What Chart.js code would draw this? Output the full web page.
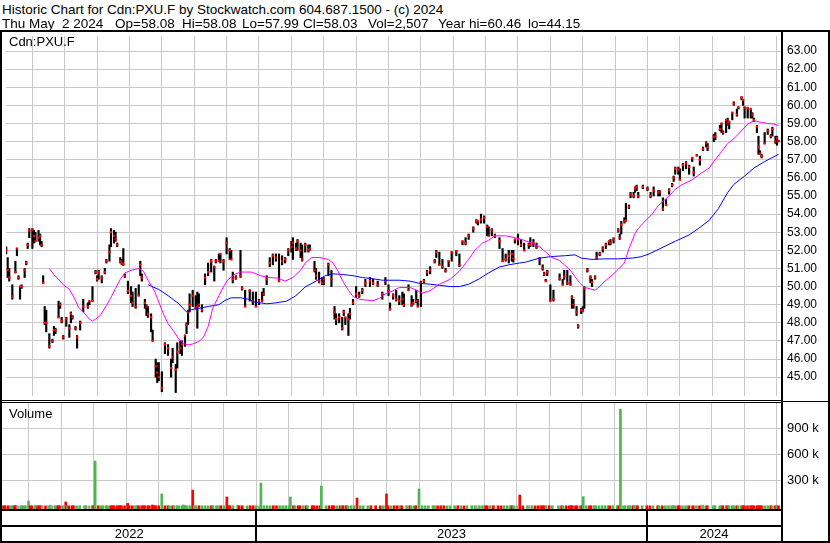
<!DOCTYPE html>
<html><head><meta charset="utf-8">
<script src="https://cdn.jsdelivr.net/npm/chart.js@4.4.1/dist/chart.umd.min.js"></script>
<style>
html,body{margin:0;padding:0;background:#fff;}
#wrap{position:relative;width:830px;height:543px;overflow:hidden;background:#fff;font-family:"Liberation Sans",Arial,sans-serif;}
.t{position:absolute;white-space:pre;color:#000;}
.h{position:absolute;white-space:pre;color:#000;top:17px;font-size:13.5px;line-height:13.5px;}
.ln{position:absolute;background:#000;}
canvas{position:absolute;}
</style></head><body>
<div id="wrap">
<canvas id="pc" style="left:2px;top:32px;" width="826" height="368"></canvas>
<canvas id="vc" style="left:2px;top:403px;" width="826" height="140"></canvas>
<div class="t" style="left:2px;top:2.5px;font-size:13.5px;line-height:13.5px;">Historic Chart for Cdn:PXU.F by Stockwatch.com 604.687.1500 - (c) 2024</div>
<span class="h" style="left:2px;">Thu May  2 2024</span>
<span class="h" style="left:115px;">Op=58.08</span>
<span class="h" style="left:182px;">Hi=58.08</span>
<span class="h" style="left:242px;">Lo=57.99</span>
<span class="h" style="left:303px;">Cl=58.03</span>
<span class="h" style="left:368px;">Vol=2,507</span>
<span class="h" style="left:438px;">Year hi=60.46</span>
<span class="h" style="left:528px;">lo=44.15</span>
<div class="t" style="left:9px;top:35px;font-size:13px;line-height:13px;">Cdn:PXU.F</div>
<div class="t" style="left:9px;top:406.5px;font-size:13px;line-height:13px;">Volume</div>
<div class="ln" style="left:0;top:30px;width:830px;height:2px;"></div>
<div class="ln" style="left:0;top:30px;width:2px;height:513px;"></div>
<div class="ln" style="left:828px;top:30px;width:2px;height:513px;"></div>
<div class="ln" style="left:781px;top:30px;width:2px;height:513px;"></div>
<div class="ln" style="left:0;top:400px;width:781px;height:1px;"></div>
<div class="ln" style="left:0;top:402px;width:781px;height:1px;"></div>
<div class="ln" style="left:781px;top:401px;width:49px;height:1px;"></div>
<div class="ln" style="left:0;top:509px;width:781px;height:2px;"></div>
<div class="ln" style="left:0;top:525px;width:781px;height:2px;"></div>
<div class="ln" style="left:0;top:541px;width:830px;height:2px;"></div>
</div>
<script>
// ---- data (x = trading-day index counted from the first session of 2022) ----
const barDays = [
 88,89,90,92,94,95,96,97,98,100,
 101,102,103,105,106,107,109,110,111,112,
 113,114,116,118,119,120,122,123,124,125,
 127,129,130,131,133,134,136,138,141,142,
 144,146,147,148,150,152,153,155,156,158,
 159,160,162,163,164,165,167,169,170,172,
 174,175,176,178,179,180,182,183,185,186,
 187,189,191,193,195,196,198,199,201,202,
 204,205,206,207,209,211,212,213,215,217,
 219,221,223,224,226,227,229,231,233,234,
 235,237,240,241,243,246,248,250,252,254,
 255,257,259,261,263,265,267,269,271,273,
 274,276,277,279,280,282,284,285,288,289,
 291,293,294,297,299,301,302,304,306,307,
 308,310,311,313,315,317,319,321,324,326,
 329,332,334,336,337,339,341,343,345,346,
 349,351,352,354,355,357,359,361,363,366,
 367,369,371,373,375,377,380,382,384,386,
 388,391,393,394,396,398,400,401,403,405,
 408,410,412,414,416,417,418,420,422,424,
 427,428,430,432,434,436,437,438,439,441,
 443,447,449,450,452,454,455,456,458,459,
 461,462,463,465,467,468,470,471,473,475,
 477,479,480,482,485,486,487,489,490,492,
 493,495,496,497,498,501,504,506,508,511,
 512,514,516,518,520,521,522,524,525,527,
 529,531,533,534,536,538,540,542,543,547,
 548,551,552,553,555,556,557,559,560,562,
 563,565,566,567,569,571,572,573,575,576,
 577,578,580,582,584,585,587,588,589
];
const barHigh = [
 52.2,51.6,51.0,50.1,51.4,52.1,50.6,50.0,50.1,51.0,
 51.4,52.4,53.2,53.2,53.1,53.0,53.1,52.9,52.5,50.6,
 48.9,48.7,47.4,47.1,47.8,47.7,49.2,49.1,48.3,47.3,
 48.3,47.9,48.6,48.4,47.8,47.3,48.1,49.3,49.1,49.2,
 50.0,50.9,50.6,50.9,50.6,51.0,51.5,52.3,53.2,53.1,
 53.0,52.4,51.6,51.5,52.1,50.7,50.3,50.0,49.7,49.9,
 50.1,51.4,50.7,49.3,49.0,48.9,48.5,47.6,46.0,45.8,
 45.8,45.3,46.9,46.8,46.0,46.6,45.7,46.9,47.0,47.0,
 47.3,48.0,48.7,49.6,49.8,49.5,49.7,49.6,49.0,50.7,
 51.3,51.5,51.1,51.5,51.8,51.8,51.5,52.7,52.1,52.0,
 50.8,50.6,52.0,50.0,49.8,49.8,49.7,49.7,49.3,49.7,
 49.9,50.6,51.6,51.8,51.8,51.8,51.7,51.6,52.1,52.5,
 52.7,52.4,52.6,52.4,52.3,52.4,52.3,52.3,51.4,51.0,
 50.8,50.5,50.5,51.3,50.9,48.9,48.5,48.5,48.3,48.7,
 48.3,48.5,48.8,49.3,50.0,49.7,49.9,50.4,50.5,50.4,
 50.3,49.7,50.5,50.1,49.1,49.6,49.8,49.5,49.7,49.6,
 50.1,49.5,49.3,49.8,49.3,50.3,50.4,50.9,51.1,51.5,
 52.0,51.9,51.5,51.0,51.4,51.9,52.0,51.8,52.5,52.7,
 52.9,53.3,53.7,53.6,54.0,53.9,53.4,53.3,53.2,52.9,
 52.7,52.1,51.8,52.0,52.0,52.0,52.6,52.9,52.6,52.4,
 52.4,52.7,52.6,52.4,51.6,51.2,50.8,50.4,50.9,50.1,
 49.8,50.7,50.4,50.9,50.9,50.6,49.5,49.3,48.9,47.9,
 48.8,48.9,50.0,51.0,50.6,50.4,50.6,51.9,51.9,52.2,
 52.4,52.5,52.6,52.7,53.2,52.9,53.6,53.8,54.6,54.5,
 55.2,55.2,55.5,55.6,55.2,55.6,55.5,55.2,55.5,55.3,
 55.3,54.9,54.8,55.4,55.7,56.1,56.6,56.6,56.5,56.8,
 56.9,56.7,57.1,56.6,57.3,57.2,57.7,58.0,57.9,58.4,
 58.5,58.9,59.0,58.6,59.2,59.3,59.1,59.6,60.2,59.8,
 59.9,60.46,60.3,59.9,59.9,59.8,59.6,59.3,58.9,58.3,
 57.5,57.3,58.5,58.7,58.4,58.8,58.3,58.3,58.08
];
const barLow = [
 51.8,50.5,50.3,49.3,50.75,51.7,50.4,49.3,49.9,50.5,
 51.2,52.1,52.7,52.1,52.4,52.5,52.5,52.3,52.2,50.2,
 47.9,47.5,46.6,46.9,47.3,47.4,48.3,48.8,48.0,47.1,
 47.8,47.2,48.0,48.2,47.6,46.6,47.6,48.6,48.8,49.0,
 49.2,50.7,50.3,50.4,50.2,50.7,51.3,51.4,52.2,52.4,
 52.5,52.2,51.3,51.2,51.2,50.5,49.6,49.1,48.9,48.8,
 49.5,50.6,50.3,48.8,48.4,48.3,47.5,47.0,45.0,44.7,
 44.8,44.2,46.3,46.2,45.0,45.8,44.15,45.5,46.3,46.2,
 46.7,47.4,47.9,48.6,48.9,48.8,47.7,48.9,48.6,50.1,
 50.6,50.8,50.3,51.3,51.4,51.3,50.9,51.8,51.5,51.5,
 50.2,50.4,50.5,49.8,48.9,49.2,49.0,48.9,49.0,49.2,
 49.5,50.1,51.1,51.2,51.4,50.3,51.2,51.3,51.7,51.9,
 51.5,52.0,52.0,51.6,51.4,51.9,51.9,52.0,50.8,50.4,
 50.2,50.1,50.1,50.6,50.0,48.2,47.9,48.0,47.6,48.4,
 47.9,47.3,48.2,49.0,49.4,49.4,49.6,50.0,50.0,50.1,
 50.0,49.3,50.1,49.5,48.7,49.3,49.2,49.0,49.0,48.9,
 49.8,48.9,49.0,49.1,48.9,48.9,50.2,50.6,50.7,51.3,
 51.6,51.2,51.0,50.8,51.1,51.4,51.7,51.1,52.3,52.3,
 52.6,53.0,53.5,53.4,53.5,53.5,52.8,52.8,52.8,52.7,
 52.1,51.4,51.4,51.3,51.4,51.35,52.4,52.3,52.2,52.0,
 52.1,52.2,52.2,52.1,51.2,50.9,50.6,50.3,50.6,49.2,
 49.2,50.35,50.1,50.4,50.1,50.1,48.8,48.8,48.4,47.7,
 48.5,48.6,48.8,50.8,50.2,50.0,50.4,51.5,51.7,51.9,
 52.1,52.3,52.3,52.4,53.0,52.6,52.9,53.5,53.6,54.3,
 54.9,54.9,55.2,55.3,54.9,55.4,55.3,54.9,55.0,55.0,
 55.0,54.2,54.5,55.1,55.5,55.8,56.2,56.2,55.9,56.4,
 56.5,56.2,56.9,56.1,57.2,56.7,57.5,57.7,57.5,58.0,
 58.1,58.6,58.5,58.4,58.5,58.9,58.7,59.2,60.0,59.4,
 59.8,60.3,60.0,59.3,59.3,59.3,59.3,59.1,58.5,57.3,
 57.3,57.1,57.9,58.4,58.2,58.3,57.9,57.8,57.99
];
const barClose = [
 52.0,50.9,50.5,49.45,50.8,52.1,50.5,50.0,50.0,50.9,
 51.3,52.3,53.1,53.15,52.8,52.5,52.7,52.8,52.3,50.2,
 48.0,48.0,46.7,47.0,47.6,47.6,48.3,49.0,48.1,47.2,
 48.2,47.7,48.5,48.3,47.7,47.2,48.0,48.9,48.9,49.2,
 49.2,50.8,50.4,50.8,50.5,50.8,51.4,51.9,53.0,52.8,
 52.6,52.3,51.4,51.3,51.2,50.6,49.75,49.5,49.1,48.9,
 49.5,51.2,50.5,49.1,48.9,48.5,48.3,47.0,45.6,45.25,
 45.0,44.4,46.8,46.6,45.5,46.1,45.4,46.4,46.6,46.8,
 47.3,47.9,48.6,49.0,49.5,48.8,48.9,49.0,48.7,50.5,
 50.8,51.4,51.1,51.4,51.4,51.8,51.4,52.4,52.0,51.5,
 50.4,50.5,50.6,49.9,48.9,49.8,49.2,48.9,49.2,49.2,
 49.6,50.4,51.3,51.7,51.6,50.3,51.4,51.5,52.0,52.2,
 52.4,52.1,52.5,52.0,51.5,52.3,52.0,52.1,50.9,50.6,
 50.3,50.2,50.4,51.2,50.4,48.6,48.2,48.3,47.7,48.6,
 48.3,48.2,48.5,49.1,49.6,49.5,49.8,50.2,50.3,50.2,
 50.1,49.6,50.3,49.8,48.75,49.5,49.3,49.2,49.3,49.0,
 49.8,49.0,49.1,49.2,48.9,50.2,50.3,50.8,50.9,51.4,
 51.9,51.2,51.1,50.85,51.4,51.9,51.95,51.2,52.5,52.4,
 52.8,53.2,53.6,53.6,53.7,53.8,53.3,52.8,53.1,52.8,
 52.5,51.4,51.5,51.7,51.8,51.55,52.6,52.6,52.3,52.0,
 52.3,52.3,52.4,52.2,51.5,51.0,50.7,50.3,50.8,49.2,
 49.3,50.45,50.1,50.55,50.2,50.1,49.4,49.0,48.6,47.8,
 48.7,48.65,49.9,50.9,50.5,50.25,50.5,51.6,51.8,52.1,
 52.3,52.5,52.4,52.6,53.1,52.7,53.4,53.6,53.65,54.4,
 55.1,55.0,55.4,55.5,55.0,55.5,55.4,55.0,55.3,55.2,
 55.25,54.3,54.5,55.3,55.6,56.0,56.5,56.45,55.9,56.7,
 56.8,56.6,57.1,56.3,57.25,57.0,57.6,57.9,57.7,58.25,
 58.3,58.7,59.0,58.5,59.2,59.0,59.1,59.6,60.1,59.5,
 59.9,60.45,60.3,59.9,59.85,59.8,59.5,59.2,58.8,57.7,
 57.35,57.2,57.9,58.6,58.3,58.7,58.0,58.2,58.03
];
// volume in thousands of shares
const barVolume = [
 3,3,2,3,3,2,3,3,2,3,
 3,2,3,58,3,2,3,3,2,3,
 3,3,2,3,10,3,3,2,3,3,
 3,47,3,2,3,3,2,3,3,3,
 2,3,3,523,3,2,3,3,3,2,
 3,3,2,3,3,3,2,30,3,3,
 2,3,3,3,2,3,3,3,12,3,
 3,2,140,3,3,2,3,3,3,2,
 3,12,3,3,3,186,3,2,3,3,
 3,2,3,3,2,3,3,3,105,3,
 3,2,8,3,3,2,3,3,3,2,
 267,3,3,2,3,3,3,2,3,3,
 105,3,2,3,3,3,2,3,3,3,
 2,3,233,3,2,3,3,3,2,3,
 3,3,2,3,3,93,3,2,3,3,
 3,2,3,140,3,2,3,3,3,2,
 3,3,3,2,3,198,3,2,3,3,
 3,2,3,3,3,2,3,3,3,2,
 3,3,3,2,3,3,3,2,3,3,
 3,2,3,3,3,2,3,3,128,2,
 3,3,3,2,3,3,3,2,3,3,
 3,2,3,3,3,2,3,3,3,2,
 3,3,108,3,2,3,3,3,2,3,
 3,3,2,3,3,3,1128,3,3,2,
 3,3,3,2,3,3,3,2,3,3,
 3,2,3,3,3,2,3,3,3,2,
 3,3,3,2,3,3,10,2,3,3,
 3,2,3,3,3,2,3,3,3,2,
 3,3,3,2,3,3,3,2,3,3,
 3,2,3,3,3,2,3,3,2.5
];
// short moving average (magenta)
const maShortDays = [
 116,119,122,125,129,132,135,138,142,144,
 146,149,153,156,159,162,165,169,174,177,
 180,184,187,190,193,197,200,203,206,209,
 213,216,219,222,226,229,232,237,240,247,
 253,258,264,269,274,279,282,286,291,297,
 300,303,306,310,313,317,321,326,330,334,
 339,343,350,354,358,363,369,376,382,388,
 392,397,401,405,412,418,423,429,434,438,
 442,447,450,454,457,460,463,467,470,473,
 476,481,485,489,492,496,498,502,507,511,
 518,522,526,533,539,544,547,552,556,560,
 565,569,573,578,582,586,589
];
const maShortVals = [
 51.0,50.65,50.4,50.1,49.85,49.4,48.85,48.6,48.2,48.1,
 48.2,48.4,48.95,49.4,49.9,50.4,50.75,50.9,51.0,50.85,
 50.35,49.8,49.15,48.5,47.95,47.5,47.1,46.85,46.78,46.83,
 46.97,47.2,47.8,48.8,49.5,50.0,50.4,50.7,50.8,50.8,
 50.6,50.5,50.47,50.3,50.5,50.9,51.3,51.6,51.6,51.5,
 51.3,50.9,50.35,49.8,49.45,49.3,49.26,49.22,49.35,49.6,
 49.77,49.95,49.95,49.8,49.64,49.77,50.13,50.4,50.85,51.5,
 52.0,52.4,52.56,52.8,52.8,52.7,52.58,52.4,52.2,51.9,
 51.6,51.44,51.2,50.9,50.54,50.2,49.96,49.87,49.8,50.0,
 50.27,50.62,50.95,51.3,52.1,52.94,53.2,53.57,54.0,54.47,
 55.0,55.37,55.6,55.9,56.27,56.54,56.9,57.44,57.9,58.16,
 58.6,58.97,59.15,59.06,59.0,58.97,58.88
];
// long moving average (blue)
const maLongDays = [
 180,187,193,200,205,208,213,219,226,230,
 234,240,245,249,257,263,270,276,282,289,
 295,300,306,313,319,326,332,343,350,356,
 363,369,376,382,388,395,401,408,414,421,
 425,434,442,450,457,461,468,476,485,494,
 500,505,513,522,531,537,544,550,556,560,
 567,573,580,584,589
];
const maLongVals = [
 50.1,49.84,49.5,49.05,48.6,48.72,48.8,48.9,49.0,49.24,
 49.38,49.38,49.3,49.15,49.05,49.1,49.2,49.5,49.98,50.3,
 50.6,50.7,50.67,50.6,50.5,50.43,50.35,50.35,50.3,50.18,
 50.13,50.07,50.0,50.0,50.13,50.43,50.76,51.08,51.2,51.3,
 51.35,51.57,51.66,51.7,51.75,51.57,51.5,51.53,51.53,51.57,
 51.65,51.8,52.13,52.5,52.85,53.2,53.66,54.3,55.19,55.64,
 56.1,56.54,56.9,57.08,57.3
];
const priceTicks = [45,46,47,48,49,50,51,52,53,54,55,56,57,58,59,60,61,62,63];
const volumeTicks = [300,600,900];
const yearLabels = ["2022","2023","2024"];
const yearStartDays = [252,504];      // first session of 2023 and of 2024
const daysPerMonth = 21;
const xRange = [87.9, 590.6];
const priceRange = [43.96, 63.83];
const volumeRange = [-35, 1200];

// ---- drawing ----
Chart.defaults.font.family = '"Liberation Sans", Arial, sans-serif';
Chart.defaults.color = '#000';
const GRID = '#c8c8c8';
const GREEN = 'rgb(80,180,80)', RED = '#ff0000', GRAY = '#a0a0a0';

const monthTicks = [];
for (let m = Math.ceil(xRange[0]/daysPerMonth); m*daysPerMonth <= xRange[1]; m++) monthTicks.push(m*daysPerMonth);

function xScaleBase() {
  return {
    type: 'linear', min: xRange[0], max: xRange[1], offset: false,
    grid: { color: GRID, lineWidth: 1, drawTicks: false, offset: false },
    border: { display: false },
    ticks: { display: false },
    afterBuildTicks(s) { s.ticks = monthTicks.map(v => ({ value: v })); },
    afterFit(s) { s.height = 0; s.paddingLeft = 0; s.paddingRight = 0; }
  };
}

new Chart(document.getElementById('pc'), {
  type: 'scatter',
  data: {
    datasets: [
      { type: 'line', data: maShortDays.map((d, i) => ({ x: d, y: maShortVals[i] })),
        borderColor: '#ff00ff', borderWidth: 1, pointRadius: 0, tension: 0, fill: false, order: 1 },
      { type: 'line', data: maLongDays.map((d, i) => ({ x: d, y: maLongVals[i] })),
        borderColor: '#0000ff', borderWidth: 1, pointRadius: 0, tension: 0, fill: false, order: 1 },
      { type: 'scatter', data: barDays.map((d, i) => ({ x: d, y: barClose[i] })),
        pointStyle: 'rect', pointRadius: 1.6, backgroundColor: RED, borderWidth: 0, order: 2 },
      { type: 'bar', data: barDays.map((d, i) => ({ x: d, y: [barLow[i], barHigh[i]] })),
        backgroundColor: '#000', barThickness: 1.5, order: 3 }
    ]
  },
  options: {
    responsive: false, animation: false, devicePixelRatio: 1,
    layout: { padding: 0 },
    plugins: { legend: { display: false }, tooltip: { enabled: false } },
    scales: {
      x: xScaleBase(),
      y: {
        position: 'right', min: priceRange[0], max: priceRange[1],
        grid: { color: GRID, lineWidth: 1, drawTicks: false },
        border: { display: false },
        ticks: { font: { size: 12 }, color: '#000', padding: 6, callback: v => Number(v).toFixed(2) },
        afterBuildTicks(s) { s.ticks = priceTicks.map(v => ({ value: v })); },
        afterFit(s) { s.width = 47; s.paddingTop = 0; s.paddingBottom = 0; }
      }
    }
  }
});

const stripPlugin = {
  id: 'strip',
  afterDraw(chart) {
    const { ctx, chartArea, scales } = chart;
    ctx.save();
    ctx.fillStyle = '#000';
    yearStartDays.forEach(d => {
      const px = Math.round(scales.x.getPixelForValue(d));
      ctx.fillRect(px - 1, chartArea.bottom, 2, chart.height - chartArea.bottom);
    });
    ctx.restore();
  }
};

const volColors = barClose.map((c, i) => i === 0 || c > barClose[i - 1] ? GREEN : (c < barClose[i - 1] ? RED : GRAY));
const yearCenters = [
  (xRange[0] + yearStartDays[0]) / 2,
  (yearStartDays[0] + yearStartDays[1]) / 2,
  (yearStartDays[1] + xRange[1]) / 2
];

new Chart(document.getElementById('vc'), {
  type: 'bar',
  data: {
    datasets: [
      { data: barDays.map((d, i) => ({ x: d, y: barVolume[i] })),
        backgroundColor: volColors, barThickness: 2, minBarLength: 2, base: volumeRange[0] }
    ]
  },
  options: {
    responsive: false, animation: false, devicePixelRatio: 1,
    layout: { padding: 0 },
    plugins: { legend: { display: false }, tooltip: { enabled: false } },
    scales: {
      x: xScaleBase(),
      xYear: {
        type: 'linear', position: 'bottom', min: xRange[0], max: xRange[1], offset: false,
        grid: { display: false, drawTicks: false },
        border: { display: false },
        ticks: { font: { size: 13 }, color: '#000', padding: 18, maxRotation: 0, autoSkip: false,
                 callback: (v, i) => yearLabels[i] },
        afterBuildTicks(s) { s.ticks = yearCenters.map(v => ({ value: v })); },
        afterFit(s) { s.height = 34; s.paddingLeft = 0; s.paddingRight = 0; }
      },
      y: {
        position: 'right', min: volumeRange[0], max: volumeRange[1],
        grid: { color: GRID, lineWidth: 1, drawTicks: false },
        border: { display: false },
        ticks: { font: { size: 13 }, color: '#000', padding: 6, callback: v => v + ' k' },
        afterBuildTicks(s) { s.ticks = volumeTicks.map(v => ({ value: v })); },
        afterFit(s) { s.width = 47; s.paddingTop = 0; s.paddingBottom = 0; }
      }
    }
  },
  plugins: [stripPlugin]
});
</script>
</body></html>
